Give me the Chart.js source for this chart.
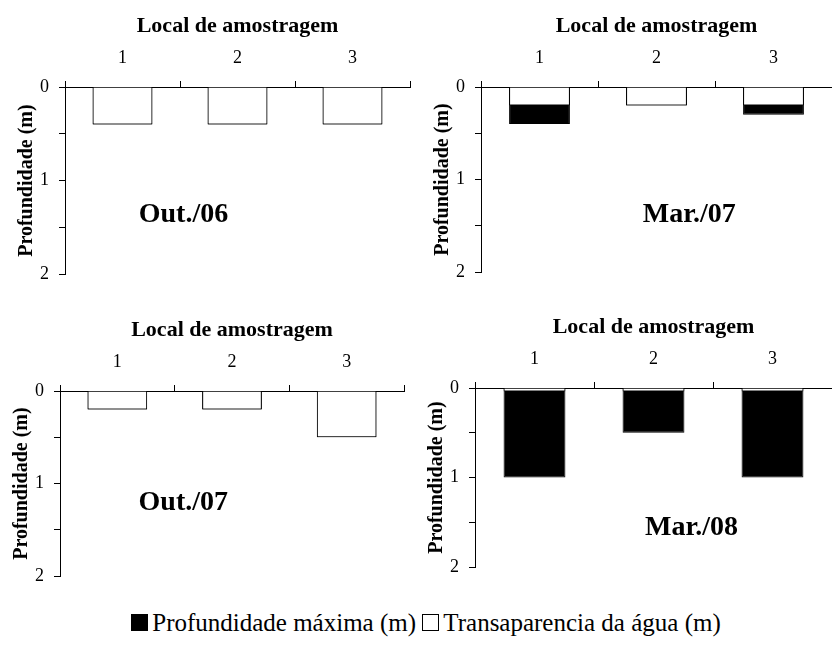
<!DOCTYPE html>
<html>
<head>
<meta charset="utf-8">
<script src="https://cdn.jsdelivr.net/npm/chart.js@4"></script>
<style>
  body { margin: 0; background: #fff; }
  #wrap { position: relative; width: 832px; height: 645px; overflow: hidden; }
  .panel { position: absolute; }
  #legend { position: absolute; left: 10px; width: 832px; top: 609px; text-align: center;
    font-family: 'Liberation Serif', serif; font-size: 25px; color: #000; }
  .sq { display: inline-block; width: 15px; height: 15px; border: 1px solid #000; vertical-align: 0px; margin-right: 4px; }
</style>
</head>
<body>
<div id="wrap">
  <div class="panel" style="left:0px;top:1px"><canvas id="c0" width="416" height="294"></canvas></div>
  <div class="panel" style="left:416px;top:1px"><canvas id="c1" width="416" height="292"></canvas></div>
  <div class="panel" style="left:-5px;top:305px"><canvas id="c2" width="416" height="292"></canvas></div>
  <div class="panel" style="left:410px;top:302px"><canvas id="c3" width="422" height="286"></canvas></div>
  <div id="legend"><span class="sq" style="background:#000"></span>Profundidade máxima (m) <span class="sq" style="background:#fff"></span>Transaparencia da água (m)</div>
</div>
<script>
// ===== DATA =====
const sites = ['1', '2', '3'];
const periods = ['Out./06', 'Mar./07', 'Out./07', 'Mar./08'];
const maxDepth = [
  [0.4, 0.4, 0.4],
  [0.4, 0.2, 0.3],
  [0.2, 0.2, 0.5],
  [1.0, 0.5, 1.0]
];
const transparency = [
  [0.4, 0.4, 0.4],
  [0.2, 0.2, 0.2],
  [0.2, 0.2, 0.5],
  [0.04, 0.04, 0.04]
];
const depthTicks = [0, 0.5, 1, 1.5, 2];

// label spot inside each panel (category index, depth) and padding
const labelAt = [[0.53, 1.37], [1.28, 1.38], [0.575, 1.21], [1.32, 1.56]];
const padRight = [6, 0, 7, 0];

const serif = 'Liberation Serif';

const periodLabel = {
  id: 'periodLabel',
  afterDraw(chart, args, opts) {
    const { ctx, scales } = chart;
    const x = scales.x.getPixelForValue(opts.pos[0]);
    const y = scales.y.getPixelForValue(opts.pos[1]);
    ctx.save();
    ctx.font = 'bold 28px ' + serif;
    ctx.fillStyle = '#000';
    ctx.textAlign = 'center';
    ctx.textBaseline = 'middle';
    ctx.fillText(opts.text, x, y);
    ctx.restore();
  }
};

periods.forEach((p, i) => {
  new Chart(document.getElementById('c' + i), {
    type: 'bar',
    data: {
      labels: sites,
      datasets: [
        {
          label: 'Transaparencia da água (m)',
          data: transparency[i],
          backgroundColor: '#fff',
          borderColor: '#000',
          borderWidth: 1,
          grouped: false,
          categoryPercentage: 1,
          barPercentage: 0.52
        },
        {
          label: 'Profundidade máxima (m)',
          data: maxDepth[i],
          backgroundColor: '#000',
          borderColor: '#000',
          borderWidth: 1,
          grouped: false,
          categoryPercentage: 1,
          barPercentage: 0.52
        }
      ]
    },
    options: {
      responsive: false,
      animation: false,
      layout: { padding: { left: 0, top: 0, right: padRight[i], bottom: 0 } },
      plugins: {
        legend: { display: false },
        tooltip: { enabled: false },
        periodLabel: { text: p, pos: labelAt[i] }
      },
      scales: {
        x: {
          position: 'top',
          z: 1,
          offset: true,
          title: { display: true, text: 'Local de amostragem', color: '#000',
            font: { family: serif, size: 22, weight: 'bold' }, padding: { top: 12, bottom: 0 } },
          ticks: { color: '#000', font: { family: serif, size: 18 }, padding: 12 },
          grid: { offset: true, drawOnChartArea: false, drawTicks: true, tickLength: 6, color: '#000', lineWidth: 1 },
          border: { display: true, color: '#000', width: 1 },
          afterFit: s => { s.height = 86; }
        },
        y: {
          reverse: true,
          min: 0,
          max: 2,
          z: 1,
          afterBuildTicks: s => { s.ticks = depthTicks.map(v => ({ value: v })); },
          title: { display: true, text: 'Profundidade (m)', color: '#000',
            font: { family: serif, size: 20, weight: 'bold' }, padding: { top: 15, bottom: 0 } },
          ticks: { color: '#000', font: { family: serif, size: 18 }, padding: 10,
            callback: v => Number.isInteger(v) ? v : '' },
          grid: { drawOnChartArea: false, drawTicks: true, tickLength: 6, color: '#000', lineWidth: 1 },
          border: { display: true, color: '#000', width: 1 },
          afterFit: s => { s.width = 65; }
        }
      }
    },
    plugins: [periodLabel]
  });
});
</script>
</body>
</html>
